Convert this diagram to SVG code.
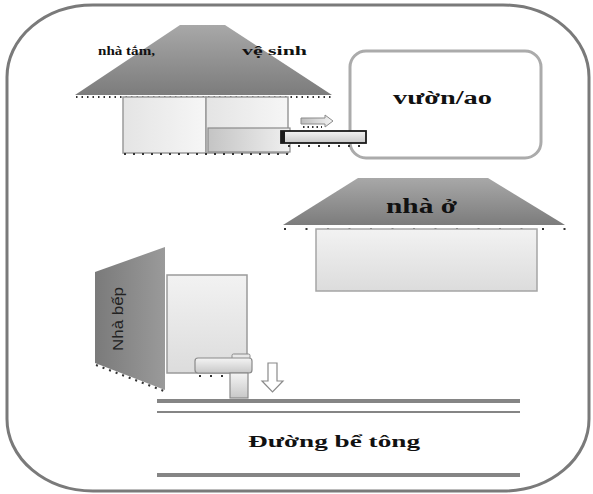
<svg xmlns="http://www.w3.org/2000/svg" width="593" height="494" viewBox="0 0 593 494">
  <defs>
    <linearGradient id="roof" x1="0" y1="0" x2="0" y2="1">
      <stop offset="0" stop-color="#a8a8a8"/>
      <stop offset="1" stop-color="#7c7c7c"/>
    </linearGradient>
    <linearGradient id="wall" x1="0" y1="0" x2="1" y2="0">
      <stop offset="0" stop-color="#e4e4e4"/>
      <stop offset="1" stop-color="#f6f6f6"/>
    </linearGradient>
    <linearGradient id="wallV" x1="0" y1="0" x2="0" y2="1">
      <stop offset="0" stop-color="#f2f2f2"/>
      <stop offset="1" stop-color="#dcdcdc"/>
    </linearGradient>
    <linearGradient id="tank" x1="0" y1="0" x2="1" y2="0">
      <stop offset="0" stop-color="#c4c4c4"/>
      <stop offset="1" stop-color="#f0f0f0"/>
    </linearGradient>
    <linearGradient id="pipe" x1="0" y1="0" x2="0" y2="1">
      <stop offset="0" stop-color="#f4f4f4"/>
      <stop offset="1" stop-color="#c8c8c8"/>
    </linearGradient>
    <linearGradient id="side" x1="0" y1="0" x2="1" y2="0">
      <stop offset="0" stop-color="#7a7a7a"/>
      <stop offset="1" stop-color="#9a9a9a"/>
    </linearGradient>
    <linearGradient id="arrowFill" x1="0" y1="0" x2="1" y2="0">
      <stop offset="0" stop-color="#bdbdbd"/>
      <stop offset="1" stop-color="#f4f4f4"/>
    </linearGradient>
  </defs>
  <style>
    .frame { fill: #ffffff; stroke: #7a7a7a; stroke-width: 3; }
    .roof { fill: url(#roof); stroke: none; }
    .eaves { stroke: #333; stroke-width: 2; fill: none; }
    .wall { fill: url(#wall); stroke: #9a9a9a; stroke-width: 1.5; }
    .lbl { font-weight: bold; fill: #111; }
    .road { stroke: #858585; fill: none; }
  </style>

  <!-- outer frame -->
  <rect class="frame" x="7" y="5" width="582" height="486" rx="86" ry="72"/>

  <!-- bathroom / toilet block -->
  <g id="bath-house">
    <polygon class="roof" points="180,25 225,25 332,95 75,95"/>
    <line class="eaves" x1="76" y1="97" x2="332" y2="97" stroke-dasharray="1.5 4"/>
    <rect class="wall" x="123" y="97" width="83" height="56"/>
    <rect class="wall" x="206" y="97" width="82" height="56"/>
    <rect x="208" y="128" width="82" height="24" fill="url(#tank)" stroke="#8a8a8a" stroke-width="1.2"/>
    <line class="eaves" x1="124" y1="154" x2="290" y2="154" stroke-dasharray="2 7"/>
    <text class="lbl" x="98" y="55" font-family="'Liberation Serif', 'DejaVu Serif', serif" font-size="13" textLength="57" lengthAdjust="spacingAndGlyphs">nhà tắm,</text>
    <text class="lbl" x="242" y="55" font-family="'Liberation Serif', 'DejaVu Serif', serif" font-size="13" textLength="65" lengthAdjust="spacingAndGlyphs">vệ sinh</text>
  </g>

  <!-- garden / pond -->
  <g id="garden">
    <rect x="350" y="51" width="191" height="107" rx="16" ry="16" fill="#fff" stroke="#ababab" stroke-width="3"/>
    <text class="lbl" x="393" y="104" font-family="'Liberation Serif', 'DejaVu Serif', serif" font-size="18" textLength="99" lengthAdjust="spacingAndGlyphs">vườn/ao</text>
  </g>

  <!-- drain pipe to the garden -->
  <g id="bath-drain">
    <rect x="281" y="131" width="85" height="12" fill="url(#pipe)" stroke="#1a1a1a" stroke-width="1.8"/>
    <rect x="281" y="131" width="4" height="12" fill="#1a1a1a"/>
    <line class="eaves" x1="288" y1="146" x2="366" y2="146" stroke-dasharray="2 8"/>
  </g>

  <!-- main house -->
  <g id="main-house">
    <polygon class="roof" points="358,178 488,178 565,225 283,225"/>
    <line class="eaves" x1="284" y1="229" x2="566" y2="229" stroke-dasharray="2 19.5"/>
    <rect x="316" y="229" width="221" height="62" fill="url(#wallV)" stroke="#a5a5a5" stroke-width="1.5"/>
    <text class="lbl" x="386" y="213" font-family="'Liberation Serif', 'DejaVu Serif', serif" font-size="21" textLength="71" lengthAdjust="spacingAndGlyphs">nhà ở</text>
  </g>

  <!-- kitchen -->
  <g id="kitchen">
    <polygon points="165,247 165,390 95,363 95,272" fill="url(#side)"/>
    <line class="eaves" x1="96" y1="365" x2="164" y2="391" stroke-dasharray="2 5"/>
    <rect x="167" y="275" width="80" height="98" fill="url(#wallV)" stroke="#9a9a9a" stroke-width="1.5"/>
    <text x="-32" y="0" font-family="'Liberation Sans', Arial, sans-serif" font-size="14" fill="#222" textLength="64" lengthAdjust="spacingAndGlyphs" transform="translate(123,319) rotate(-90)">Nhà bếp</text>
  </g>

  <!-- kitchen sink and outlet -->
  <g id="kitchen-sink">
    <rect x="232" y="354" width="18" height="5" rx="1.5" fill="#e8e8e8" stroke="#8a8a8a" stroke-width="1"/>
    <rect x="195" y="358" width="57" height="15" rx="3" fill="url(#pipe)" stroke="#8a8a8a" stroke-width="1.2"/>
    <line class="eaves" x1="199" y1="376" x2="250" y2="376" stroke-dasharray="2 9"/>
    <rect x="230" y="373" width="18" height="25" fill="url(#pipe)" stroke="#8a8a8a" stroke-width="1.2"/>
    <line class="eaves" x1="232" y1="400" x2="247" y2="400" stroke-dasharray="2 2"/>
  </g>

  <!-- concrete road -->
  <g id="road">
    <line class="road" x1="157" y1="401" x2="520" y2="401" stroke-width="4"/>
    <line class="road" x1="157" y1="412" x2="520" y2="412" stroke-width="2"/>
    <line class="road" x1="157" y1="475" x2="520" y2="475" stroke-width="4"/>
    <text class="lbl" x="248" y="447" font-family="'Liberation Serif', 'DejaVu Serif', serif" font-size="16" textLength="172" lengthAdjust="spacingAndGlyphs">Đường bể tông</text>
  </g>

  <!-- flow arrows -->
  <g id="connectors">
    <path d="M301,118 H325 V115 L333,121 L325,127 V124 H301 Z" fill="url(#arrowFill)" stroke="#8a8a8a" stroke-width="1"/>
    <line class="eaves" x1="303" y1="127" x2="322" y2="127" stroke-dasharray="1.5 3"/>
    <path d="M268,363 H277 V381 H283 L272.5,392 L262,381 H268 Z" fill="#fff" stroke="#8a8a8a" stroke-width="1.2"/>
  </g>
</svg>
